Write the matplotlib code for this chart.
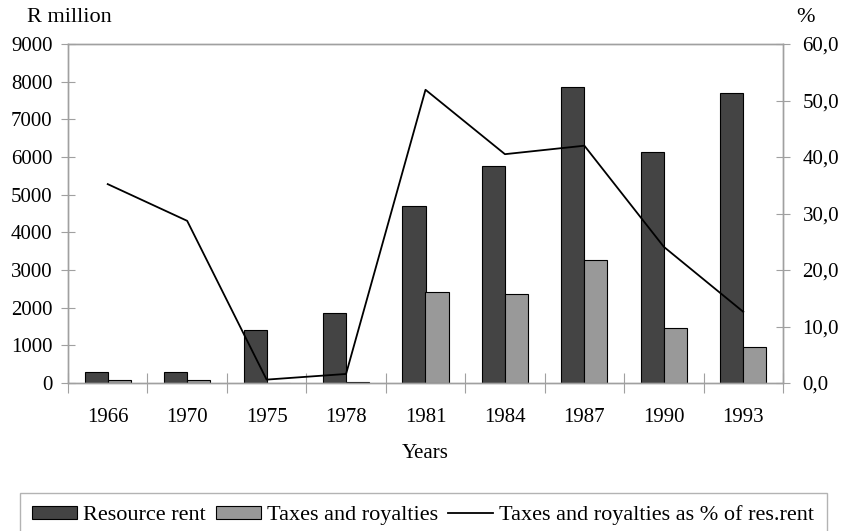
import numpy as np
import matplotlib
matplotlib.use("Agg")
import matplotlib.pyplot as plt

plt.rcParams['font.family'] = ['Liberation Serif', 'DejaVu Serif']

years = ['1966', '1970', '1975', '1978', '1981', '1984', '1987', '1990', '1993']
resource_rent = [300, 300, 1400, 1870, 4700, 5770, 7850, 6120, 7710]
taxes_royalties = [90, 85, 10, 30, 2420, 2350, 3270, 1460, 960]
taxes_pct = [35.2, 28.7, 0.6, 1.6, 51.9, 40.5, 42.0, 24.1, 12.6]

fig = plt.figure(figsize=(8.41, 5.31), dpi=100)
ax = fig.add_axes([68/841, 1-383/531, (783-68)/841, (383-44)/531])
ax2 = ax.twinx()

x = np.arange(len(years))
w = 0.29
grey = '#a0a0a0'

ax.bar(x - w/2, resource_rent, w, color='#444444', edgecolor='black', linewidth=0.8,
       label='Resource rent', zorder=2)
ax.bar(x + w/2, taxes_royalties, w, color='#999999', edgecolor='black', linewidth=0.8,
       label='Taxes and royalties', zorder=2)
ax2.plot(x, taxes_pct, color='black', linewidth=1.3,
         label='Taxes and royalties as % of res.rent')

ax.set_xlim(-0.5, len(years) - 0.5)
ax.set_ylim(0, 9000)
ax.set_yticks(range(0, 9001, 1000))
ax2.set_ylim(0, 60)
ax2.set_yticks(range(0, 61, 10))
ax2.set_yticklabels([f'{v},0' for v in range(0, 61, 10)])

# ticks between categories, labels centred
ax.set_xticks(np.arange(-0.5, len(years), 1))
ax.set_xticklabels([])
ax.set_xticks(x, minor=True)
ax.set_xticklabels(years, minor=True)
ax.tick_params(axis='x', which='major', direction='inout', length=14, color=grey)
ax.tick_params(axis='x', which='minor', length=0, pad=18, labelsize=15)
ax.tick_params(axis='y', direction='inout', length=10, color=grey, labelsize=15, pad=6)
ax2.tick_params(axis='y', direction='inout', length=10, color=grey, labelsize=15, pad=9)

for a in (ax, ax2):
    for s in a.spines.values():
        s.set_color(grey)
        s.set_linewidth(1.0)

ax.set_xlabel('Years', fontsize=15, labelpad=12)
fig.text(27/841, 1-17/531, 'R million', fontsize=16, va='center', ha='left')
fig.text(796/841, 1-17/531, '%', fontsize=16, va='center', ha='left')

h1, l1 = ax.get_legend_handles_labels()
h2, l2 = ax2.get_legend_handles_labels()
leg = fig.legend(h1 + h2, l1 + l2, loc='upper left', bbox_to_anchor=(20/841, 1-493/531),
                 ncol=3, fontsize=16, frameon=True, fancybox=False, edgecolor=grey,
                 handlelength=2.0, handleheight=0.5, handletextpad=0.3, columnspacing=0.45,
                 borderpad=0.55, borderaxespad=0)
leg.get_frame().set_linewidth(1.0)

fig.savefig('out.png', dpi=100)
